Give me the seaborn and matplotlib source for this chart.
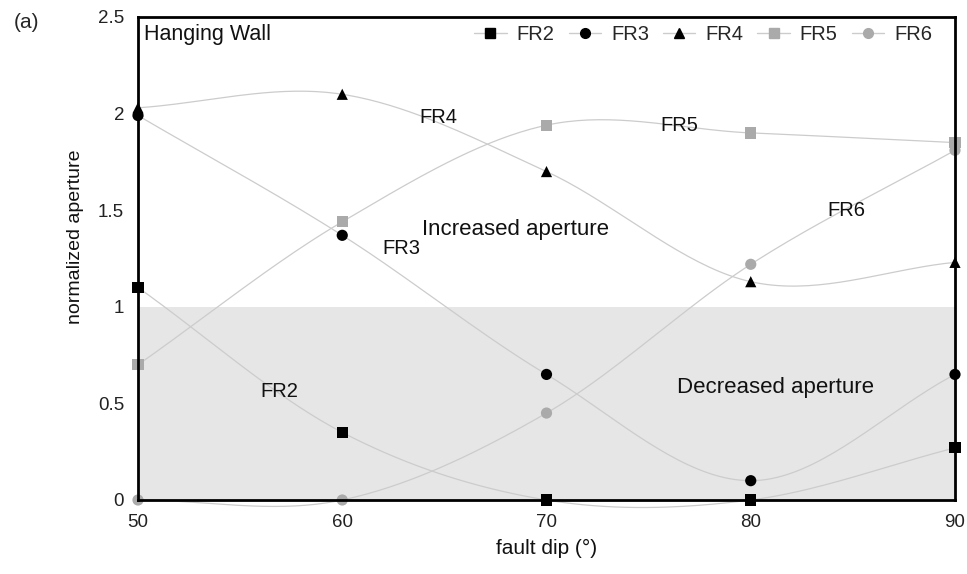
import numpy as np
import pandas as pd
import matplotlib
matplotlib.use("Agg")
import matplotlib.pyplot as plt
import seaborn as sns
from matplotlib.lines import Line2D

sns.set_style("white")
plt.rcParams['font.family'] = ['Liberation Sans', 'DejaVu Sans']

dips = [50, 60, 70, 80, 90]
fr2 = [1.10, 0.35, 0.00, 0.00, 0.27]
fr3 = [1.99, 1.37, 0.65, 0.10, 0.65]
fr4 = [2.03, 2.10, 1.70, 1.13, 1.23]
fr5 = [0.70, 1.44, 1.94, 1.90, 1.85]
fr6 = [0.00, 0.00, 0.45, 1.22, 1.81]
series_names = ["FR2", "FR3", "FR4", "FR5", "FR6"]
series_vals = [fr2, fr3, fr4, fr5, fr6]
marker_styles = ["s", "o", "^", "s", "o"]
marker_colors = ["black", "black", "black", "#aaaaaa", "#aaaaaa"]
line_color = "#cccccc"

def smooth(x, y, n=40):
    # Catmull-Rom spline through the points (Excel-like smoothed line)
    x = np.asarray(x, float); y = np.asarray(y, float)
    px = np.concatenate([[2*x[0]-x[1]], x, [2*x[-1]-x[-2]]])
    py = np.concatenate([[2*y[0]-y[1]], y, [2*y[-1]-y[-2]]])
    xs, ys = [], []
    t = np.linspace(0, 1, n)
    for i in range(1, len(px)-2):
        p0, p1, p2, p3 = [np.array([px[j], py[j]]) for j in range(i-1, i+3)]
        m1 = (p2 - p0) / 2
        m2 = (p3 - p1) / 2
        h00 = 2*t**3 - 3*t**2 + 1
        h10 = t**3 - 2*t**2 + t
        h01 = -2*t**3 + 3*t**2
        h11 = t**3 - t**2
        pts = np.outer(h00, p1) + np.outer(h10, m1) + np.outer(h01, p2) + np.outer(h11, m2)
        xs.extend(pts[:, 0]); ys.extend(pts[:, 1])
    return np.array(xs), np.array(ys)

fig = plt.figure(figsize=(9.67, 5.74), dpi=100)
ax = fig.add_axes([138/967, 1-500/574, (955-138)/967, (500-17)/574])

ax.axhspan(0, 1, color="#e6e6e6", zorder=0, lw=0)

rows = []
for name, vals in zip(series_names, series_vals):
    for d, v in zip(dips, vals):
        rows.append({"dip": d, "aperture": v, "series": name})
df = pd.DataFrame(rows)

for name, vals in zip(series_names, series_vals):
    sx, sy = smooth(dips, vals)
    sns.lineplot(x=sx, y=sy, ax=ax, color=line_color, lw=0.9, sort=False,
                 estimator=None, zorder=2, clip_on=False)

for name, m, c in zip(series_names, marker_styles, marker_colors):
    sub = df[df.series == name]
    sns.scatterplot(data=sub, x="dip", y="aperture", ax=ax, marker=m, color=c,
                    s=65, edgecolor="none", zorder=4, clip_on=False, legend=False)

ax.set_xlim(50, 90)
ax.set_ylim(0, 2.5)
ax.set_xticks([50, 60, 70, 80, 90])
ax.set_yticks([0, 0.5, 1, 1.5, 2, 2.5])
ax.set_yticklabels(["0", "0.5", "1", "1.5", "2", "2.5"])
ax.tick_params(axis="both", labelsize=13.5, length=0, pad=10, colors="#222222")
for sp in ax.spines.values():
    sp.set_color("black"); sp.set_linewidth(2)
    sp.set_zorder(5)

ax.set_xlabel("fault dip (°)", fontsize=15, labelpad=6, color="#111111")
ax.set_ylabel("normalized aperture", fontsize=14, labelpad=12, color="#111111")
ax.yaxis.set_label_coords(-0.066, 0.545)

handles = [Line2D([0], [0], color=line_color, lw=1, marker=m, markerfacecolor=c,
                  markeredgecolor=c, markersize=7)
           for m, c in zip(marker_styles, marker_colors)]
ax.legend(handles, series_names, ncol=5, loc="upper right", frameon=False,
          fontsize=14.5, handlelength=1.6, columnspacing=0.7, handletextpad=0.5,
          bbox_to_anchor=(0.994, 1.02))

tk = dict(fontsize=14.5, color="#111111", ha="center", va="center", zorder=6)
ax.text(50.3, 2.41, "Hanging Wall", fontsize=15.5, ha="left", va="center", zorder=6, color="#111111")
ax.text(64.7, 1.98, "FR4", **tk)
ax.text(76.5, 1.94, "FR5", **tk)
ax.text(62.9, 1.30, "FR3", **tk)
ax.text(56.9, 0.56, "FR2", **tk)
ax.text(84.7, 1.50, "FR6", **tk)
ax.text(68.5, 1.40, "Increased aperture", fontsize=16, ha="center", va="center", zorder=6, color="#111111")
ax.text(81.2, 0.58, "Decreased aperture", fontsize=16, ha="center", va="center", zorder=6, color="#111111")

fig.text(14/967, 1-22/574, "(a)", fontsize=15, ha="left", va="center")

fig.savefig("out.png", dpi=100)
